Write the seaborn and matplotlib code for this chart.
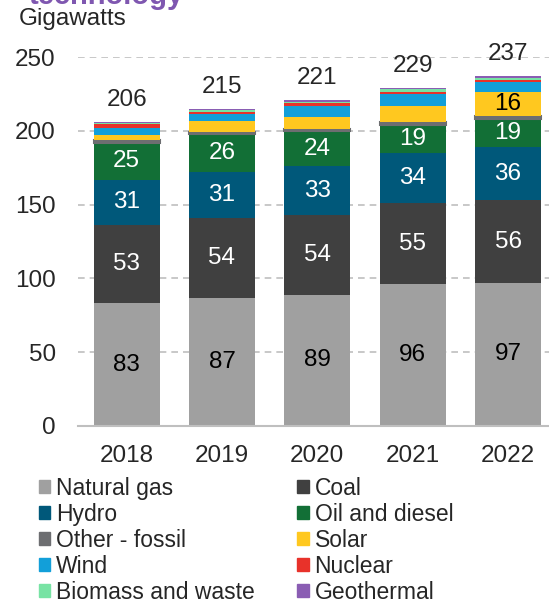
import numpy as np
import pandas as pd
import matplotlib
matplotlib.use("Agg")
import matplotlib.pyplot as plt
from matplotlib.patches import Patch
import seaborn as sns

years = ["2018", "2019", "2020", "2021", "2022"]
natural_gas = [83, 87, 89, 96, 97]
coal = [53, 54, 54, 55, 56]
hydro = [31, 31, 33, 34, 36]
oil_diesel = [25, 26, 24, 19, 19]
other_fossil = [1.5, 1.5, 1.5, 2, 2]
solar = [3.5, 7, 8, 11, 16]
wind = [5, 5, 7, 8, 7]
nuclear = [2.5, 1.5, 2, 1.5, 1.5]
biomass = [0.5, 1, 1, 1.5, 1.5]
geothermal = [1, 1, 1.5, 1, 1]
totals = [206, 215, 221, 229, 237]

series = {
    "Natural gas": natural_gas,
    "Coal": coal,
    "Hydro": hydro,
    "Oil and diesel": oil_diesel,
    "Other - fossil": other_fossil,
    "Solar": solar,
    "Wind": wind,
    "Nuclear": nuclear,
    "Biomass and waste": biomass,
    "Geothermal": geothermal,
}
colors = {
    "Natural gas": "#A0A0A0",
    "Coal": "#404040",
    "Hydro": "#00587A",
    "Oil and diesel": "#126F36",
    "Other - fossil": "#6D6E71",
    "Solar": "#FFC81F",
    "Wind": "#129FD9",
    "Nuclear": "#E8322A",
    "Biomass and waste": "#78E3A4",
    "Geothermal": "#8A5DB3",
}
# which segments get a value label, and in what colour
label_color = {"Natural gas": "black", "Coal": "white", "Hydro": "white",
               "Oil and diesel": "white"}

FS = 17.5

sns.set_style("white")
plt.rcParams["font.family"] = ["Liberation Sans", "DejaVu Sans"]

fig = plt.figure(figsize=(5.49, 6.0), dpi=100)
ax = fig.add_axes([78 / 549, 1 - 426 / 600, 1 - 78 / 549, (426 - 57) / 600])

bottom = np.zeros(len(years))
solar_mid = None
for name in series:
    vals = np.array(series[name], dtype=float)
    if name == "Other - fossil":
        edge = dict(edgecolor=colors[name], linewidth=1.5)
    else:
        edge = dict(linewidth=0)
    sns.barplot(x=years, y=vals, bottom=bottom, color=colors[name], width=0.69,
                saturation=1, errorbar=None, ax=ax, zorder=3, **edge)
    if name in label_color:
        for i, v in enumerate(vals):
            ax.text(i, bottom[i] + v / 2, "{:g}".format(v), ha="center", va="center",
                    fontsize=FS, color=label_color[name], zorder=5)
    if name == "Solar":
        solar_mid = bottom + vals / 2
    bottom = bottom + vals

# solar label only on the last bar
ax.text(4, solar_mid[4], "{:g}".format(solar[4]), ha="center", va="center",
        fontsize=FS, color="black", zorder=5)

for i, t in enumerate(totals):
    ax.annotate(str(t), (i, t), xytext=(0, 8), textcoords="offset points",
                ha="center", va="bottom", fontsize=FS, annotation_clip=False)

ax.set_ylim(0, 250)
ax.set_xlim(-0.51, 4.43)
ax.set_yticks([0, 50, 100, 150, 200, 250])
ax.yaxis.grid(True, color="#BFBFBF", linestyle=(0, (4, 3)), linewidth=1.2, zorder=0)
ax.set_axisbelow(True)
for s in ["top", "right", "left"]:
    ax.spines[s].set_visible(False)
ax.spines["bottom"].set_color("#BFBFBF")
ax.spines["bottom"].set_linewidth(1.5)
ax.spines["bottom"].set_zorder(4)
ax.tick_params(axis="y", length=0, pad=16, labelsize=FS)
ax.tick_params(axis="x", length=0, pad=14, labelsize=FS)
ax.set_xlabel("")
ax.set_ylabel("")

fig.text(19 / 549, 1 - 25 / 600, "Gigawatts", fontsize=FS, va="baseline", ha="left")
fig.text(184 / 549, 1 - 4 / 600, "technology", fontsize=21, fontweight="bold",
         color="#7F57B0", va="baseline", ha="right")

names = list(series.keys())
order = [0, 2, 4, 6, 8, 1, 3, 5, 7, 9]
handles = [Patch(facecolor=colors[names[k]], edgecolor=colors[names[k]], label=names[k]) for k in order]
fig.legend(handles=handles, loc="upper left", bbox_to_anchor=(39 / 549, 1 - 477 / 600),
           ncol=2, frameon=False, fontsize=16.5, handlelength=0.5, handleheight=0.5,
           handletextpad=0.25, columnspacing=1.85, labelspacing=0.13, borderpad=0,
           borderaxespad=0)

fig.savefig("out.png", dpi=100)
